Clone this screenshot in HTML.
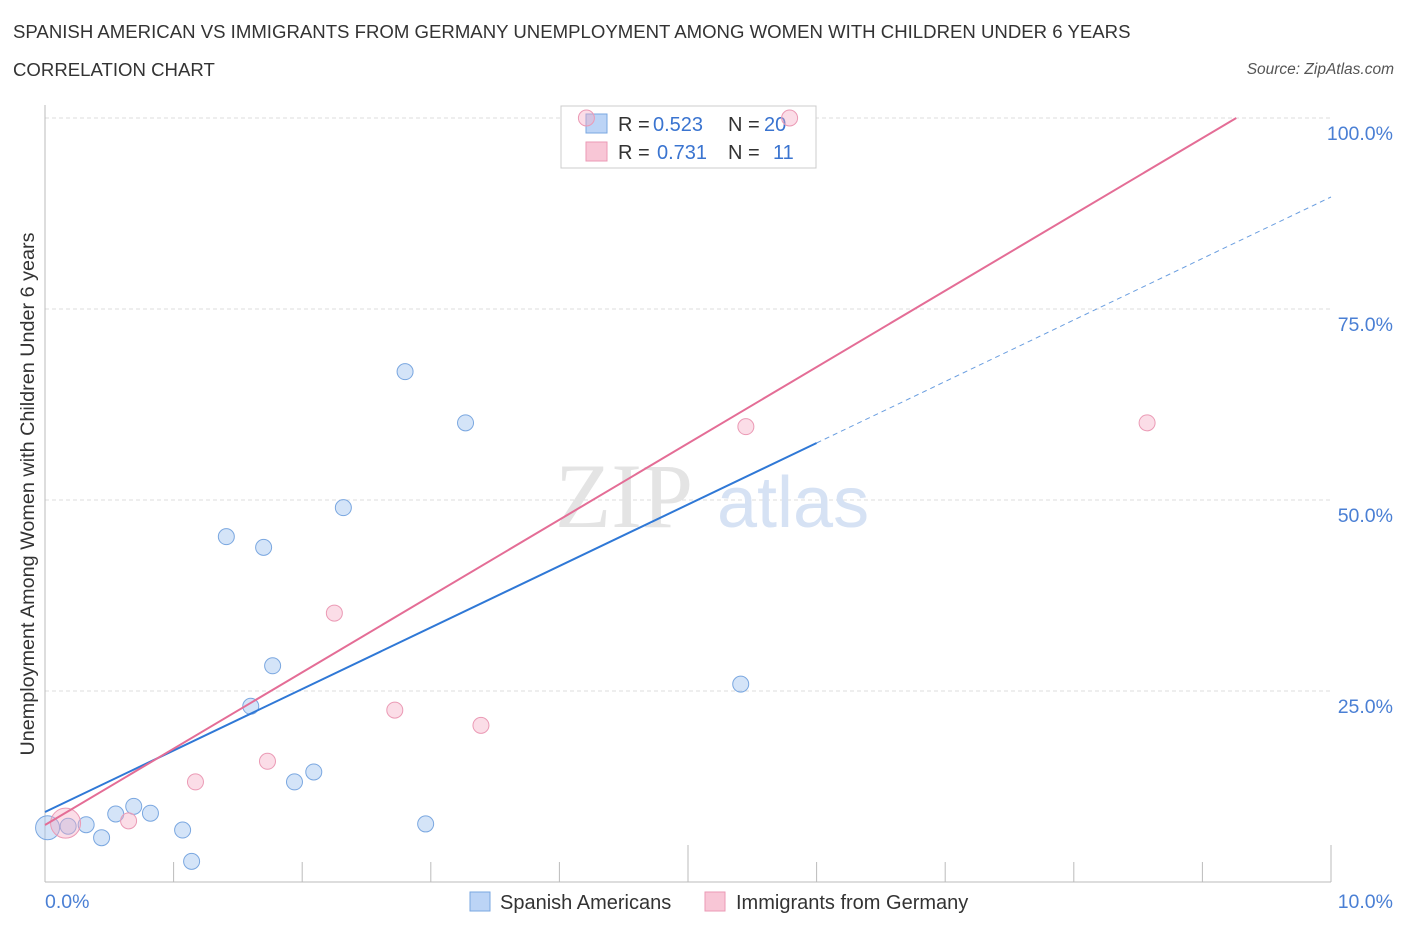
<!DOCTYPE html>
<html><head><meta charset="utf-8"><style>
body{margin:0;background:#fff;font-family:"Liberation Sans",sans-serif;}
.t{position:absolute;color:#333;}
</style></head><body>
<div style="position:relative;width:1406px;height:930px;overflow:hidden">
<div class="t" style="left:13px;top:21px;font-size:18.6px;color:#333;white-space:nowrap">SPANISH AMERICAN VS IMMIGRANTS FROM GERMANY UNEMPLOYMENT AMONG WOMEN WITH CHILDREN UNDER 6 YEARS</div>
<div class="t" style="left:13px;top:59px;font-size:18.6px">CORRELATION CHART</div>
<div class="t" style="right:12px;top:61px;font-size:15.5px;font-style:italic;color:#555">Source: ZipAtlas.com</div>
<svg id="c" width="1406" height="930" style="position:absolute;left:0;top:0"></svg>
</div>
<script>
const blueX=[0.02,0.18,0.32,0.44,0.55,0.69,0.82,1.07,1.14,1.41,1.6,1.7,1.77,1.94,2.09,2.32,2.8,2.96,3.27,5.41];
const blueY=[7.1,7.3,7.5,5.8,8.9,9.9,9.0,6.8,2.7,45.2,23.0,43.8,28.3,13.1,14.4,49.0,66.8,7.6,60.1,25.9];
const pinkX=[0.16,0.65,1.17,1.73,2.25,2.72,3.39,5.45,8.57,4.21,5.79];
const pinkY=[7.7,8.0,13.1,15.8,35.2,22.5,20.5,59.6,60.1,100.0,100.0];
const blueLine=[9.16,8.05]; // intercept, slope per 1%
const pinkLine=[7.46,9.99];
const yTicks=[25,50,75,100];
const yTickLabels=["25.0%","50.0%","75.0%","100.0%"];
const xs=v=>45+v/10*1286, ys=v=>882-v*7.64;
const svg=document.getElementById('c');const NS="http://www.w3.org/2000/svg";
function mk(t,a,p){const e=document.createElementNS(NS,t);for(const k in a)e.setAttribute(k,a[k]);(p||svg).appendChild(e);return e;}
yTicks.forEach((v,i)=>{
 const g=mk('line',{x1:45,x2:1331,y1:ys(v),y2:ys(v),stroke:'#ddd','stroke-dasharray':'4,3'});
 
 
 const t=mk('text',{x:1393,y:ys(v)+22,'text-anchor':'end','font-size':19.5,fill:'#4a7fd4','font-family':'Liberation Sans'});
 t.textContent=yTickLabels[i];
 
 
});
mk('line',{x1:45,x2:1331,y1:118,y2:118,stroke:'#ddd','stroke-dasharray':'4,3'});
mk('line',{x1:45,x2:45,y1:105,y2:882,stroke:'#bbb'});
mk('line',{x1:45,x2:1331,y1:882,y2:882,stroke:'#bbb'});
for(let i=0;i<=10;i++){const x=xs(i);mk('line',{x1:x,x2:x,y1:(i==5||i==10)?845:862,y2:882,stroke:'#bbb'});}
let t=mk('text',{x:45,y:908,'font-size':19.5,fill:'#4a7fd4'});t.textContent='0.0%';


t=mk('text',{x:1393,y:908,'text-anchor':'end','font-size':19.5,fill:'#4a7fd4'});t.textContent='10.0%';


t=mk('text',{x:34,y:494,'text-anchor':'middle','font-size':19.8,fill:'#333',transform:'rotate(-90 34 494)'});t.textContent='Unemployment Among Women with Children Under 6 years';


t=mk('text',{x:555,y:527,'font-size':92,fill:'#e4e4e4','font-family':'Liberation Serif'});t.textContent='ZIP';


t=mk('text',{x:717,y:527,'font-size':72,fill:'#d6e2f4'});t.textContent='atlas';


// top legend (drawn before points)
const lg=mk('rect',{x:561,y:106,width:255,height:62,fill:'#fff',stroke:'#ccc'});


mk('rect',{x:586,y:114,width:21,height:19,fill:'#bcd4f6',stroke:'#7aa7e0'});
mk('rect',{x:586,y:142,width:21,height:19,fill:'#f8c6d6',stroke:'#eb9ab5'});
function tx(x,y,s,c,n,fs){const e=mk('text',{x:x,y:y,'font-size':fs||20,fill:c});e.textContent=s;}
tx(618,131,'R =','#333','r-label');tx(653,131,'0.523','#3a74d0','r-value-blue');tx(728,131,'N =','#333','n-label');tx(764,131,'20','#3a74d0','n-value-blue');
tx(618,159,'R =','#333','r-label');tx(657,159,'0.731','#3a74d0','r-value-pink');tx(728,159,'N =','#333','n-label');tx(773,159,'11','#3a74d0','n-value-pink');
blueX.forEach((v,i)=>{const c=mk('circle',{cx:xs(v),cy:ys(blueY[i]),r:i==0?12:8,fill:'rgba(160,196,240,0.45)',stroke:'#7aa7e0','stroke-width':1});
 
 });
pinkX.forEach((v,i)=>{const c=mk('circle',{cx:xs(v),cy:ys(pinkY[i]),r:i==0?15:8,fill:'rgba(245,170,195,0.4)',stroke:'#eb9ab5','stroke-width':1});
 
 });
let l=mk('line',{x1:xs(0),y1:ys(blueLine[0]),x2:xs(6),y2:ys(blueLine[0]+6*blueLine[1]),stroke:'#2f78d6','stroke-width':2});


l=mk('line',{x1:xs(6),y1:ys(blueLine[0]+6*blueLine[1]),x2:xs(10),y2:ys(blueLine[0]+10*blueLine[1]),stroke:'#6a9ee0','stroke-width':1,'stroke-dasharray':'5,4'});


const px=(100-pinkLine[0])/pinkLine[1];
l=mk('line',{x1:xs(0),y1:ys(pinkLine[0]),x2:xs(px),y2:ys(100),stroke:'#e46d96','stroke-width':2});


mk('rect',{x:470,y:892,width:20,height:19,fill:'#bcd4f6',stroke:'#7aa7e0'});
tx(500,909,'Spanish Americans','#333','legend-spanish-americans');
mk('rect',{x:705,y:892,width:20,height:19,fill:'#f8c6d6',stroke:'#eb9ab5'});
tx(736,909,'Immigrants from Germany','#333','legend-immigrants-germany');
</script>
</body></html>
